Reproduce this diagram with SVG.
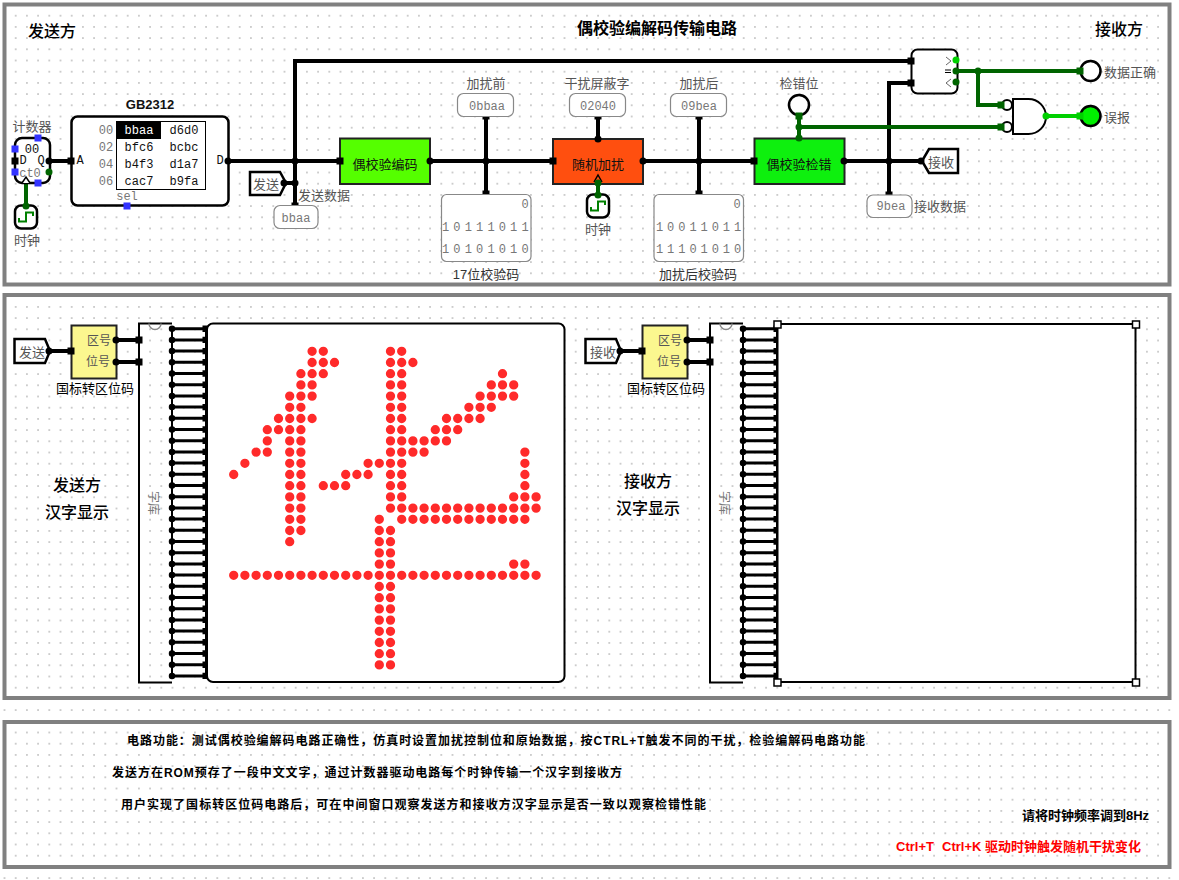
<svg xmlns="http://www.w3.org/2000/svg" width="1179" height="880" viewBox="0 0 1179 880">
<style>
text{font-family:"Liberation Sans","Noto Sans CJK SC",sans-serif;font-size:13px;fill:#111;text-anchor:middle;dominant-baseline:central}
.g{fill:#777}.lab{fill:#555}.sm{font-size:12px}.big{font-size:16px;fill:#000;font-weight:500}.b{font-weight:700;font-size:12px;fill:#000;text-anchor:start}
.r{font-weight:700;font-size:13px;fill:#000;text-anchor:start}
text.m{font-family:"Liberation Mono","DejaVu Sans Mono",monospace;font-size:12px}
.frame{fill:none;stroke:#808080;stroke-width:4}
.box{fill:#fff;stroke:#000;stroke-width:2.5}
.thin{fill:#fff;stroke:#888;stroke-width:1.2}
.w{fill:none;stroke:#000;stroke-width:4}
.rw{fill:none;stroke:#000;stroke-width:3}
.gw{fill:none;stroke:#006400;stroke-width:4}
.bw{fill:none;stroke:#00d000;stroke-width:4}
.lg{fill:#00d000}
</style>
<defs>
<pattern id="grid" x="4.5" y="4.5" width="11.2" height="11.2" patternUnits="userSpaceOnUse"><rect width="11.2" height="11.2" fill="#fff"/><circle cx="11.2" cy="11.2" r="0.7" fill="#808080"/><circle cx="0" cy="0" r="0.7" fill="#808080"/><circle cx="11.2" cy="0" r="0.7" fill="#808080"/><circle cx="0" cy="11.2" r="0.7" fill="#808080"/></pattern>
<rect id="sq" x="-3.5" y="-3.5" width="7" height="7" fill="#000"/>
<rect id="gsq" x="-3.5" y="-3.5" width="7" height="7" fill="#006400"/>
<rect id="bs" x="-3.5" y="-3.5" width="7" height="7" fill="#3333ff"/>
<circle id="dot" r="3.5" fill="#000"/>
<circle id="gdot" r="3.5" fill="#006400"/>
<g id="clk"><rect x="-11" y="-11.5" width="22" height="23" rx="6" fill="#fff" stroke="#000" stroke-width="2.5"/><path d="M-7 1V4.500H0V-4.500H7V-1" fill="none" stroke="#008000" stroke-width="2"/></g>
<g id="romwires"><path class="rw" d="M0 0h34m-34 11.2h34m-34 11.2h34m-34 11.2h34m-34 11.2h34m-34 11.2h34m-34 11.2h34m-34 11.2h34m-34 11.2h34m-34 11.2h34m-34 11.2h34m-34 11.2h34m-34 11.2h34m-34 11.2h34m-34 11.2h34m-34 11.2h34m-34 11.2h34m-34 11.2h34m-34 11.2h34m-34 11.2h34m-34 11.2h34m-34 11.2h34m-34 11.2h34m-34 11.2h34m-34 11.2h34m-34 11.2h34m-34 11.2h34m-34 11.2h34m-34 11.2h34m-34 11.2h34m-34 11.2h34m-34 11.2h34"/><path d="M0 0V347.2M34 0V347.2" stroke="#000" stroke-width="2" fill="none"/><path d="M0 0V347.21" stroke="#000" stroke-width="6.5" stroke-linecap="round" stroke-dasharray="0 11.2" fill="none"/><path d="M34 -3.2V351" stroke="#000" stroke-width="7" stroke-dasharray="6.4 4.8" fill="none"/></g>
</defs>
<rect id="background" width="1179" height="880" fill="url(#grid)"/>
<rect class="frame" x="4.5" y="4.5" width="1165" height="280"/>
<rect class="frame" x="4.5" y="295" width="1165" height="403"/>
<rect class="frame" x="4.5" y="722" width="1165" height="145"/>
<text class="big" x="52" y="31">发送方</text>
<text class="big" x="657" y="28" style="font-weight:700">偶校验编解码传输电路</text>
<text class="big" x="1119" y="29">接收方</text>

<g id="connectors">
<path class="w" d="M49 161H71M228 161H340M295 206V61H911M295 183H284M430 161H553M486 116V194M643 161H754M699 116V194M598 116V139M844 161H921M889 206V83H911"/>
<path class="gw" d="M26 182V205M598 177V195M956 71H1080M978 71V105H1001M799 116V138M799 127H1001"/>
<path class="bw" d="M1046 116H1080"/>
<path class="w" d="M49 351H71M116 340H139M116 362H139M620 351H642M687 340H710M687 362H710"/>
<use href="#dot" x="295" y="161"/><use href="#dot" x="295" y="183"/><use href="#dot" x="486" y="161"/><use href="#dot" x="699" y="161"/><use href="#dot" x="889" y="161"/>
<use href="#gdot" x="978" y="71"/><use href="#gdot" x="799" y="127"/>
<use href="#sq" x="295" y="206"/><use href="#sq" x="486" y="116"/><use href="#sq" x="486" y="194"/><use href="#sq" x="598" y="116"/><use href="#sq" x="699" y="116"/><use href="#sq" x="699" y="194"/><use href="#sq" x="889" y="195"/>
</g>

<g id="counter">
<rect class="box" x="15" y="138" width="35" height="45" rx="7"/>
<use href="#bs" x="38" y="138"/><use href="#bs" x="15" y="149"/><use href="#sq" x="15" y="161"/><use href="#bs" x="15" y="172"/><use href="#bs" x="38" y="183"/>
<use href="#dot" x="49" y="161"/><use href="#gdot" x="49" y="172"/>
<path d="M22 183L26 177L30 183" fill="#fff" stroke="#000" stroke-width="1.5"/>
<text class="m" x="32" y="150">00</text><text class="m" x="23" y="161">D</text><text class="m" x="41" y="161">Q</text><text class="m g" x="30" y="174">ct0</text>
<text class="lab" x="32" y="126">计数器</text>
</g>
<g id="clock1"><use href="#clk" x="26" y="217"/><use href="#gdot" x="26" y="206"/><text class="lab" x="27" y="240">时钟</text></g>

<g id="rom">
<text x="150" y="104" style="font-weight:700;font-size:13px">GB2312</text>
<rect class="box" x="71.5" y="116.5" width="157" height="89" rx="6"/>
<rect x="116.5" y="121.5" width="89" height="68" fill="#fff" stroke="#000" stroke-width="1"/>
<rect x="117" y="122" width="44" height="17" fill="#000"/>
<text class="m" x="139" y="131" style="fill:#fff">bbaa</text><text class="m" x="184" y="131">d6d0</text><text class="m" x="139" y="148">bfc6</text><text class="m" x="184" y="148">bcbc</text><text class="m" x="139" y="165">b4f3</text><text class="m" x="184" y="165">d1a7</text><text class="m" x="139" y="182">cac7</text><text class="m" x="184" y="182">b9fa</text>
<text class="m g" x="106" y="131">00</text><text class="m g" x="106" y="148">02</text><text class="m g" x="106" y="165">04</text><text class="m g" x="106" y="182">06</text>
<text class="m" x="80" y="161">A</text><text class="m" x="220" y="161">D</text><text class="m g" x="127" y="197">sel</text>
<use href="#sq" x="71" y="161"/><use href="#dot" x="228" y="161"/><use href="#bs" x="127" y="206"/>
</g>

<g id="tunnel-send"><polygon class="box" points="250,172 280,172 286,183 280,195 250,195"/><text class="lab" x="266" y="184">发送</text><use href="#dot" x="284" y="183"/></g>
<g id="probe-send"><rect class="thin" x="274" y="205.5" width="44" height="23" rx="6"/><text class="m g" x="296" y="219">bbaa</text><text class="lab" x="324" y="195">发送数据</text></g>

<g id="encoder"><rect x="340" y="138.5" width="90" height="45.5" fill="#55ff00" stroke="#222" stroke-width="2"/><text x="385" y="164">偶校验编码</text><use href="#sq" x="340" y="161"/><use href="#dot" x="430" y="161"/></g>
<g id="probe-before"><text class="lab" x="486" y="83">加扰前</text><rect class="thin" x="457.5" y="93.5" width="56" height="23" rx="6"/><text class="m g" x="487" y="107">0bbaa</text></g>
<g id="display-17"><rect class="thin" x="441.5" y="194.5" width="89.5" height="67" rx="5"/>
<text class="m g" x="525" y="205">0</text>
<text class="m g" x="445.500 456.900 468.300 479.600 491 502.300 513.700 525" y="228">10111011</text>
<text class="m g" x="445.500 456.900 468.300 479.600 491 502.300 513.700 525" y="250">10101010</text>
<text style="fill:#333" x="486" y="274">17位校验码</text></g>

<g id="scrambler"><rect x="553" y="139" width="90" height="45" fill="#ff4f0f" stroke="#222" stroke-width="2"/><text x="598" y="164">随机加扰</text><use href="#sq" x="553" y="161"/><use href="#dot" x="643" y="161"/><use href="#dot" x="598" y="139"/><path d="M594 182L598 175L602 182" fill="none" stroke="#000" stroke-width="1.500"/><use href="#gdot" x="598" y="183"/></g>
<g id="clock2"><use href="#clk" x="598" y="206"/><use href="#gdot" x="598" y="195"/><text class="lab" x="598" y="229">时钟</text></g>
<g id="probe-mask"><text class="lab" x="597" y="83">干扰屏蔽字</text><rect class="thin" x="569.500" y="93.5" width="56" height="23" rx="6"/><text class="m g" x="598" y="107">02040</text></g>
<g id="probe-after"><text class="lab" x="699" y="83">加扰后</text><rect class="thin" x="670.500" y="93.5" width="56" height="23" rx="6"/><text class="m g" x="699" y="107">09bea</text></g>
<g id="display-after"><rect class="thin" x="654" y="194.5" width="89.5" height="67" rx="5"/>
<text class="m g" x="737" y="205">0</text>
<text class="m g" x="659.500 670.700 681.800 693 704.100 715.300 726.400 737.500" y="228">10011011</text>
<text class="m g" x="659.500 670.700 681.800 693 704.100 715.300 726.400 737.500" y="250">11101010</text>
<text style="fill:#333" x="698" y="274">加扰后校验码</text></g>

<g id="checker"><rect x="754.500" y="138.5" width="90" height="45.5" fill="#0ef00e" stroke="#222" stroke-width="2"/><text x="799" y="164">偶校验检错</text><use href="#sq" x="754" y="161"/><use href="#dot" x="844" y="161"/><use href="#gdot" x="799" y="138"/></g>
<g id="led-parity"><text class="lab" x="799" y="83">检错位</text><circle cx="799" cy="105" r="10" fill="#fff" stroke="#000" stroke-width="2.5"/><use href="#gsq" x="799" y="116"/></g>
<g id="tunnel-recv"><polygon class="box" points="929,149 958,149 958,173 929,173 922,161"/><text class="lab" x="941" y="162">接收</text><use href="#dot" x="921" y="161"/></g>
<g id="probe-recv"><rect class="thin" x="867" y="195" width="45" height="22.500" rx="6"/><text class="m g" x="891" y="207">9bea</text><text class="lab" x="940" y="206">接收数据</text></g>

<g id="comparator"><rect class="box" x="911.500" y="49.500" width="46" height="44" rx="6" style="stroke-width:2"/><path d="M946 57L951 61L946 65M951 79L946 83L951 87" fill="none" stroke="#666" stroke-width="1"/><path d="M945 70H951M945 72.500H951" stroke="#000" stroke-width="1.2"/><use href="#sq" x="911" y="61"/><use href="#sq" x="911" y="83"/><circle cx="956" cy="60" r="3.500" class="lg"/><use href="#gdot" x="956" y="71"/><use href="#gdot" x="956" y="82"/></g>
<g id="and-gate"><path d="M1013 99H1028.500A17.500 17.500 0 0 1 1028.500 134H1013Z" fill="#fff" stroke="#000" stroke-width="2"/><circle cx="1007" cy="105" r="5" fill="#fff" stroke="#000" stroke-width="2"/><circle cx="1007" cy="127" r="5" fill="#fff" stroke="#000" stroke-width="2"/><use href="#gsq" x="1001" y="105"/><use href="#gsq" x="1001" y="127"/><circle cx="1046" cy="116" r="3.500" class="lg"/></g>
<g id="led-ok"><circle cx="1090.500" cy="71" r="10" fill="#fff" stroke="#000" stroke-width="2.5"/><use href="#gsq" x="1080" y="71"/><text class="lab" x="1130" y="72">数据正确</text></g>
<g id="led-err"><circle cx="1090.500" cy="116" r="10" fill="#00f000" stroke="#000" stroke-width="2.5"/><rect x="1076.500" y="112.500" width="7" height="7" class="lg"/><text class="lab" x="1117" y="117">误报</text></g>

<g id="tunnel-send2"><polygon class="box" points="14.500,339 45,339 50,351 45,363 14.500,363"/><text class="lab" x="32" y="352">发送</text><use href="#dot" x="49" y="351"/></g>
<g id="conv1"><rect x="71.500" y="325.500" width="45" height="53" fill="#fbf78f" stroke="#222" stroke-width="2"/><text class="lab sm" x="99" y="341">区号</text><text class="lab sm" x="98" y="362">位号</text><use href="#sq" x="71" y="351"/><use href="#dot" x="116" y="340"/><use href="#dot" x="116" y="362"/><text x="95" y="388" style="fill:#000">国标转区位码</text></g>
<g id="fontrom1"><path d="M172 323.500H139V682.500H172" fill="none" stroke="#000" stroke-width="2"/><path d="M149 323.500a6 6 0 0 0 12 0" fill="none" stroke="#888" stroke-width="1.500"/><use href="#sq" x="139" y="340"/><use href="#sq" x="139" y="362"/><text class="g sm" x="153" y="503" transform="rotate(90 153 503)">字库</text><use href="#romwires" x="172" y="328.700"/></g>
<g id="matrix1"><rect x="207" y="323.500" width="357.500" height="358.500" rx="6" fill="#fff" stroke="#000" stroke-width="2"/>
<path transform="translate(233.700 351.300) scale(11.2)" fill="none" stroke="#ff2a2a" stroke-width="0.83" stroke-linecap="round" stroke-dasharray="0 1" d="M7 0H8.01M14 0H15.01M7 1H9.01M14 1H16.01M6 2H8.01M14 2H15.01M24 2H24.01M6 3H7.01M14 3H15.01M23 3H25.01M5 4H7.01M14 4H15.01M22 4H25.01M5 5H6.01M14 5H15.01M21 5H23.01M4 6H7.01M14 6H15.01M19 6H22.01M3 7H6.01M14 7H15.01M18 7H20.01M3 8H3.01M5 8H6.01M14 8H19.01M2 9H3.01M5 9H6.01M14 9H17.01M26 9H26.01M1 10H1.01M5 10H6.01M12 10H15.01M26 10H26.01M0 11H0.01M5 11H6.01M10 11H12.01M14 11H15.01M26 11H26.01M5 12H6.01M8 12H10.01M14 12H15.01M26 12H26.01M5 13H6.01M14 13H15.01M25 13H27.01M5 14H6.01M14 14H27.01M5 15H6.01M13 15H13.01M15 15H26.01M5 16H6.01M13 16H14.01M5 17H5.01M13 17H14.01M13 18H14.01M13 19H14.01M25 19H26.01M0 20H27.01M13 21H14.01M13 22H14.01M13 23H14.01M13 24H14.01M13 25H14.01M13 26H14.01M13 27H14.01M13 28H14.01"/>
</g>
<text class="big" x="77" y="485">发送方</text><text class="big" x="77" y="512">汉字显示</text>

<g id="tunnel-recv2"><polygon class="box" points="585.500,339 616,339 621,351 616,363 585.500,363"/><text class="lab" x="603" y="352">接收</text><use href="#dot" x="620" y="351"/></g>
<g id="conv2"><rect x="642.500" y="325.500" width="45" height="53" fill="#fbf78f" stroke="#222" stroke-width="2"/><text class="lab sm" x="670" y="341">区号</text><text class="lab sm" x="669" y="362">位号</text><use href="#sq" x="642" y="351"/><use href="#dot" x="687" y="340"/><use href="#dot" x="687" y="362"/><text x="666" y="388" style="fill:#000">国标转区位码</text></g>
<g id="fontrom2"><path d="M743 323.500H710V682.500H743" fill="none" stroke="#000" stroke-width="2"/><path d="M720 323.500a6 6 0 0 0 12 0" fill="none" stroke="#888" stroke-width="1.500"/><use href="#sq" x="710" y="340"/><use href="#sq" x="710" y="362"/><text class="g sm" x="724" y="503" transform="rotate(90 724 503)">字库</text><use href="#romwires" x="743" y="328.700"/></g>
<g id="matrix2"><rect x="777.500" y="324" width="358" height="358" fill="#fff" stroke="#000" stroke-width="2"/>
<g fill="#fff" stroke="#000" stroke-width="1.500"><rect x="774" y="321" width="7" height="7"/><rect x="1132.500" y="321" width="7" height="7"/><rect x="774" y="679" width="7" height="7"/><rect x="1132.500" y="679" width="7" height="7"/></g></g>
<text class="big" x="648" y="481">接收方</text><text class="big" x="648" y="508">汉字显示</text>

<g id="notes">
<text class="b" x="127" y="741" textLength="738" lengthAdjust="spacing">电路功能：测试偶校验编解码电路正确性，仿真时设置加扰控制位和原始数据，按CTRL+T触发不同的干扰，检验编解码电路功能</text>
<text class="b" x="112" y="773" textLength="510" lengthAdjust="spacing">发送方在ROM预存了一段中文文字，通过计数器驱动电路每个时钟传输一个汉字到接收方</text>
<text class="b" x="121" y="805" textLength="585" lengthAdjust="spacing">用户实现了国标转区位码电路后，可在中间窗口观察发送方和接收方汉字显示是否一致以观察检错性能</text>
<text class="r" x="1022" y="815">请将时钟频率调到8Hz</text>
<text class="r" y="846" style="fill:#ff0000"><tspan x="896">Ctrl+T</tspan><tspan x="942">Ctrl+K</tspan><tspan x="985">驱动时钟触发随机干扰变化</tspan></text>
</g>
</svg>
